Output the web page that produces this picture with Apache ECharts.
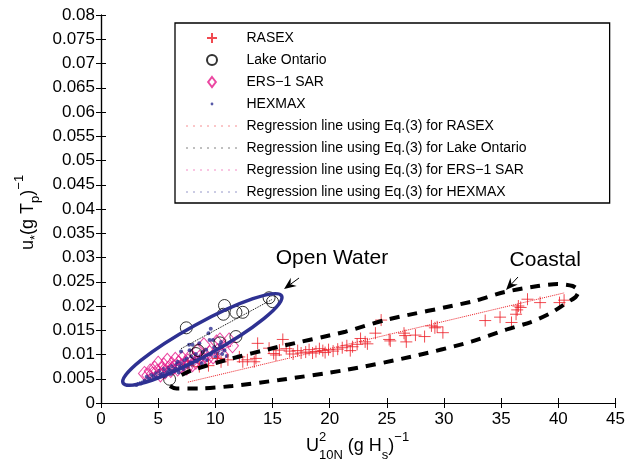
<!DOCTYPE html>
<html><head><meta charset="utf-8">
<script src="https://cdn.jsdelivr.net/npm/echarts@6/dist/echarts.min.js"></script>
<style>html,body{margin:0;padding:0;background:#fff}#c{width:628px;height:464px}</style>
</head><body><div id="c"></div>
<script>
// ---------------- data ----------------
const xTickLabels = ['0','5','10','15','20','25','30','35','40','45'];
const yTickLabels = ['0','0.005','0.01','0.015','0.02','0.025','0.03','0.035','0.04','0.045','0.05','0.055','0.06','0.065','0.07','0.075','0.08'];

const rasex = [[7.6,0.0078],[8.6,0.0075],[9.4,0.0077],[10.2,0.0092],[10.5,0.0085],[11.1,0.0089],[12.1,0.0095],[12.4,0.0085],[12.8,0.0089],[13.4,0.0085],[13.55,0.0092],[13.7,0.0123],[14.7,0.0113],[15.1,0.0102],[15.3,0.0099],[15.6,0.0109],[15.9,0.0131],[16.2,0.0112],[16.5,0.0107],[16.8,0.0101],[17.2,0.0108],[17.5,0.0103],[17.9,0.0105],[18.2,0.0110],[18.5,0.0103],[18.8,0.0106],[19.1,0.0112],[19.4,0.0108],[19.6,0.0104],[19.9,0.0110],[20.3,0.0107],[20.7,0.0111],[21.1,0.0114],[21.5,0.0118],[21.8,0.0108],[22.0,0.0116],[22.4,0.0121],[22.7,0.0133],[23.1,0.0126],[23.3,0.0122],[24.0,0.0144],[24.5,0.0171],[25.2,0.0131],[25.3,0.0128],[26.5,0.0144],[26.6,0.0139],[26.7,0.0126],[27.5,0.0140],[28.3,0.0137],[28.9,0.0159],[29.2,0.0155],[29.4,0.0157],[29.9,0.0145],[33.6,0.0170],[34.9,0.0177],[35.9,0.0166],[36.3,0.0183],[36.4,0.0192],[36.5,0.0200],[36.7,0.0197],[37.3,0.0214],[38.4,0.0207],[40.1,0.0207],[40.5,0.0212]];

const lakeOntario = [[6.0,0.0049],[7.46,0.0155],[8.3,0.0102],[8.5,0.0108],[10.4,0.0124],[10.8,0.0201],[10.7,0.0183],[11.8,0.0187],[12.4,0.0187],[11.8,0.0137],[14.7,0.0217],[15.0,0.0209]];

const ers1Sar = [[3.8,0.0061],[4.1,0.0057],[4.3,0.0066],[4.5,0.0060],[4.7,0.0072],[4.9,0.0065],[5.0,0.0082],[5.2,0.0058],[5.3,0.0070],[5.5,0.0078],[5.6,0.0064],[5.8,0.0088],[5.9,0.0072],[6.1,0.0067],[6.2,0.0080],[6.4,0.0074],[6.5,0.0090],[6.7,0.0070],[6.8,0.0083],[7.0,0.0076],[7.1,0.0092],[7.3,0.0081],[7.5,0.0072],[7.6,0.0087],[7.8,0.0096],[8.0,0.0079],[8.1,0.0090],[8.3,0.0084],[8.5,0.0109],[8.6,0.0094],[8.8,0.0088],[9.0,0.0120],[9.1,0.0099],[9.3,0.0091],[9.5,0.0104],[9.8,0.0095],[10.1,0.0126],[10.2,0.0108],[10.4,0.0130],[10.6,0.0100],[11.2,0.0130],[11.5,0.0118]];

const hexmax = [[3.1,0.0037],[3.5,0.0040],[3.8,0.0046],[4.0,0.0054],[4.2,0.0050],[4.4,0.0058],[4.6,0.0055],[4.8,0.0062],[4.9,0.0052],[5.1,0.0066],[5.2,0.0058],[5.4,0.0061],[5.5,0.0070],[5.6,0.0055],[5.8,0.0064],[5.9,0.0072],[6.0,0.0068],[6.1,0.0060],[6.2,0.0076],[6.3,0.0066],[6.5,0.0071],[6.6,0.0080],[6.7,0.0085],[6.8,0.0063],[6.9,0.0075],[7.0,0.0106],[7.0,0.0082],[7.2,0.0070],[7.3,0.0088],[7.4,0.0078],[7.5,0.0092],[7.6,0.0074],[7.7,0.0120],[7.75,0.0109],[7.8,0.0084],[7.9,0.0096],[8.0,0.0120],[8.0,0.0079],[8.2,0.0090],[8.3,0.0101],[8.4,0.0086],[8.6,0.0123],[8.6,0.0095],[8.8,0.0082],[8.9,0.0105],[9.0,0.0092],[9.2,0.0110],[9.3,0.0088],[9.4,0.0144],[9.5,0.0130],[9.6,0.0153],[9.6,0.0100],[9.8,0.0130],[9.9,0.0115],[10.0,0.0095],[10.2,0.0102],[10.4,0.0120],[10.5,0.0126],[10.6,0.0101],[10.8,0.0108],[11.0,0.0097],[12.0,0.0096]];

// regression lines (end points)
const regRasex = [[7.6,0.0043],[40.5,0.0227]];
const regLake = [[7.0,0.0112],[15.0,0.0214]];
const regErs = [[4.0,0.0058],[11.5,0.0118]];
const regHexmax = [[3.0,0.0040],[11.0,0.0112]];

// annotation shapes (data coordinates)
const coastalOutline = [[7.05,0.00577],[8.01,0.00680],[10.94,0.00887],[15.58,0.01161],[21.38,0.01470],[24.86,0.01711],[32.40,0.02089],[35.31,0.02289],[38.21,0.02412],[39.95,0.02454],[41.25,0.02412],[41.78,0.02309],[41.51,0.02186],[40.82,0.02082],[39.34,0.01856],[37.60,0.01670],[35.33,0.01505],[32.38,0.01264],[27.15,0.00955],[21.38,0.00680],[15.58,0.00474],[11.49,0.00351],[8.62,0.00299],[6.61,0.00299],[5.92,0.00371],[5.83,0.00474]];
const openWaterTips = [[1.80,0.00392],[15.93,0.02227]];
const openWaterLabel = [20.2,0.0299];
const openWaterArrow = [[17.32,0.02577],[16.01,0.02351]];
const coastalLabel = [38.85,0.0295];
const coastalArrow = [[36.47,0.02598],[35.42,0.02330]];

const names = ['RASEX','Lake Ontario','ERS\u22121 SAR','HEXMAX'];
const regNames = names.map(n => 'Regression line using Eq.(3) for ' + n);

// ---------------- chart ----------------
const FONT = '"Liberation Sans", Arial, Helvetica, sans-serif';
const RED = '#ec1c24', MAG = '#e6198a', BLUE = '#2e3192';
const chart = echarts.init(document.getElementById('c'));

const axisCommon = {
  type: 'value',
  axisLine: {show: true, lineStyle: {color: '#000', width: 1.2}},
  axisTick: {show: true, inside: true, length: 5, lineStyle: {color: '#000', width: 1}},
  splitLine: {show: false}
};

const legendData = names.map((n, i) => {
  if (i === 2) return {name: n, icon: 'path://M5,0L10,6.5L5,13L0,6.5Z'};
  if (i === 3) return {name: n, icon: 'path://M0,0M10,10M3.6,5A1.4,1.4 0 1 1 6.4,5A1.4,1.4 0 1 1 3.6,5Z'};
  return n;
}).concat(regNames.map(n => ({name: n, itemStyle: {opacity: 0}})));

const option = {
  animation: false,
  backgroundColor: '#fff',
  grid: {left: 101, right: 10, top: 15, bottom: 61},
  xAxis: [
    Object.assign({}, axisCommon, {min: 0, max: 45, interval: 5, position: 'bottom',
      axisLabel: {margin: 8, fontSize: 17, color: '#000', fontFamily: FONT, formatter: (v, i) => xTickLabels[i]}}),
    Object.assign({}, axisCommon, {min: 0, max: 45, interval: 5, position: 'top', axisLabel: {show: false}})
  ],
  yAxis: [
    Object.assign({}, axisCommon, {min: 0, max: 0.08, interval: 0.005, position: 'left',
      axisLabel: {margin: 6, fontSize: 17, color: '#000', fontFamily: FONT, formatter: (v, i) => yTickLabels[i]}}),
    Object.assign({}, axisCommon, {min: 0, max: 0.08, interval: 0.005, position: 'right', axisLabel: {show: false}})
  ],
  legend: {
    orient: 'vertical', left: 175, top: 23,
    data: legendData,
    itemWidth: 51, itemHeight: 10, itemGap: 8,
    symbolKeepAspect: true,
    lineStyle: {type: [1, 6], width: 1},
    padding: [8, 83, 4, 11],
    borderColor: '#000', borderWidth: 1.3, backgroundColor: '#fff',
    selectedMode: false,
    textStyle: {fontSize: 14, color: '#000', fontFamily: FONT, padding: [0, 0, 0, 4]}
  },
  series: [
    {name: names[2], type: 'scatter', data: ers1Sar, symbol: 'diamond', symbolSize: [12, 14],
      itemStyle: {color: 'rgba(0,0,0,0)', borderColor: MAG, borderWidth: 1}, z: 2},
    {name: names[3], type: 'scatter', data: hexmax, symbol: 'circle', symbolSize: 4,
      itemStyle: {color: BLUE}, z: 3},
    {name: names[1], type: 'scatter', data: lakeOntario, symbol: 'circle', symbolSize: 12,
      itemStyle: {color: 'rgba(0,0,0,0)', borderColor: '#000', borderWidth: 1}, z: 3},
    {name: names[0], type: 'scatter', data: rasex, symbol: 'path://M0,5L10,5M5,0L5,10', symbolSize: 12,
      itemStyle: {color: 'rgba(0,0,0,0)', borderColor: RED, borderWidth: 1}, z: 4},
    {name: regNames[0], type: 'line', data: regRasex, symbol: 'none', lineStyle: {color: RED, width: 1, type: 'dotted'}, itemStyle: {color: RED}, z: 5},
    {name: regNames[1], type: 'line', data: regLake, symbol: 'none', lineStyle: {color: '#000', width: 1, type: 'dotted'}, itemStyle: {color: '#000'}, z: 5},
    {name: regNames[2], type: 'line', data: regErs, symbol: 'none', lineStyle: {color: MAG, width: 1, type: 'dotted'}, itemStyle: {color: MAG}, z: 5},
    {name: regNames[3], type: 'line', data: regHexmax, symbol: 'none', lineStyle: {color: BLUE, width: 1, type: 'dotted'}, itemStyle: {color: BLUE}, z: 5},
    {name: 'coastal', type: 'line', data: coastalOutline, symbol: 'none', smooth: 0.25, silent: true,
      lineStyle: {color: '#000', width: 4, type: [10, 8]}, z: 6}
  ]
};
chart.setOption(option);

// ---------------- annotations ----------------
const toPx = p => chart.convertToPixel({xAxisIndex: 0, yAxisIndex: 0}, p);
const g = [];

// Open water ellipse
const a = toPx(openWaterTips[0]), b = toPx(openWaterTips[1]);
const ecx = (a[0] + b[0]) / 2, ecy = (a[1] + b[1]) / 2;
const half = Math.hypot(b[0] - a[0], b[1] - a[1]) / 2 - 1.75;
const ang = Math.atan2(a[1] - b[1], b[0] - a[0]);
g.push({type: 'ellipse', x: ecx, y: ecy, rotation: ang, shape: {cx: 0, cy: 0, rx: half, ry: 16},
  style: {fill: 'none', stroke: BLUE, lineWidth: 3.5}, z: 100, silent: true});

function arrow(seg) {
  const t = toPx(seg[0]), h = toPx(seg[1]);
  const dx = h[0] - t[0], dy = h[1] - t[1], L = Math.hypot(dx, dy);
  const ux = dx / L, uy = dy / L, nx = -uy, ny = ux;
  const HL = 12, HW = 5, NO = 8;
  g.push({type: 'line', shape: {x1: t[0], y1: t[1], x2: h[0] - ux * NO, y2: h[1] - uy * NO},
    style: {stroke: '#000', lineWidth: 1}, z: 100, silent: true});
  g.push({type: 'polygon', shape: {points: [
    [h[0], h[1]],
    [h[0] - ux * HL + nx * HW, h[1] - uy * HL + ny * HW],
    [h[0] - ux * NO, h[1] - uy * NO],
    [h[0] - ux * HL - nx * HW, h[1] - uy * HL - ny * HW]]},
    style: {fill: '#000'}, z: 100, silent: true});
}
arrow(openWaterArrow);
arrow(coastalArrow);

const owp = toPx(openWaterLabel), cp = toPx(coastalLabel);
g.push({type: 'text', x: owp[0], y: owp[1], style: {text: 'Open Water', font: '21px ' + FONT, fill: '#000', align: 'center', verticalAlign: 'middle'}, z: 100});
g.push({type: 'text', x: cp[0], y: cp[1], style: {text: 'Coastal', font: '21px ' + FONT, fill: '#000', align: 'center', verticalAlign: 'middle'}, z: 100});

// axis titles with sub/superscripts
const mctx = document.createElement('canvas').getContext('2d');
function tw(t, s) { mctx.font = s + 'px ' + FONT; return mctx.measureText(t).width; }
function pieces(list, x0) {
  let x = x0; const out = [];
  list.forEach(p => {
    out.push({type: 'text', x: x, y: p.dy, style: {text: p.t, font: p.s + 'px ' + FONT, fill: '#000', align: 'left', verticalAlign: 'middle'}});
    if (!p.stay) x += tw(p.t, p.s) + (p.gap || 0);
  });
  return out;
}
// x title
g.push({type: 'group', x: 0, y: 446, children: pieces([
  {t: 'U', s: 18, dy: 0},
  {t: '2', s: 13, dy: -9, stay: true},
  {t: '10N', s: 13, dy: 9, gap: 5},
  {t: '(g H', s: 18, dy: 0},
  {t: 's', s: 13, dy: 9},
  {t: ')', s: 18, dy: 0},
  {t: '\u22121', s: 13, dy: -9}
], 306), z: 100});
// y title (rotated)
g.push({type: 'group', x: 28, y: 250, rotation: Math.PI / 2, children: pieces([
  {t: 'u', s: 18, dy: 0},
  {t: '*', s: 13, dy: 7},
  {t: '(g T', s: 18, dy: 0},
  {t: 'p', s: 13, dy: 7},
  {t: ')', s: 18, dy: 0},
  {t: '\u22121', s: 13, dy: -9}
], 0), z: 100});

chart.setOption({graphic: g});
</script></body></html>
